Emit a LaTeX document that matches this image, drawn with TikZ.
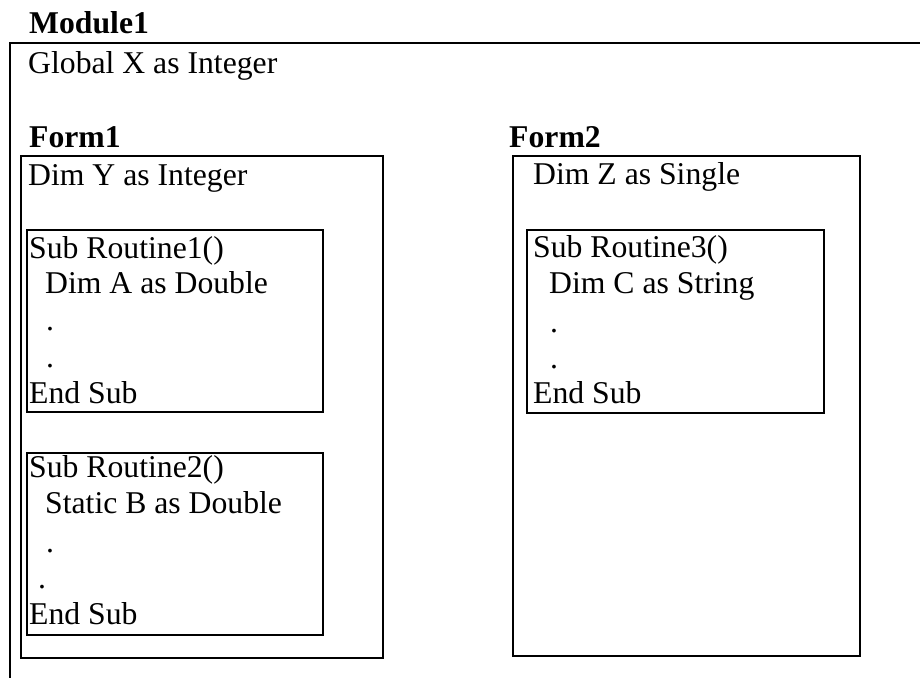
\documentclass[tikz,border=0pt]{standalone}
\usepackage{fontspec}
\setmainfont{Liberation Serif}
\begin{document}
\begin{tikzpicture}[x=1pt,y=-1pt,
  frame/.style={draw=black,line width=2.4pt},
  block/.style={draw=black,line width=2.4pt,rectangle,inner sep=0pt,anchor=north west},
  code/.style={anchor=base west,inner sep=0pt,font=\fontsize{31.7}{36}\selectfont},
  title/.style={code,font=\fontsize{31.7}{36}\selectfont\bfseries}]
\useasboundingbox (0,0) rectangle (920,677);
% module outline (open towards the right and bottom)
\coordinate (mtr) at (930,43);
\coordinate (mtl) at (10,43);
\coordinate (mbl) at (10,690);
\draw[frame] (mtr) -- (mtl) -- (mbl);
\node[title] (module) at (29,34) {Module1};
\node[code] (glob) at (28,74) {Global X as Integer};

% Form1
\node[title] (form1t) at (29,147) {Form1};
\node[block,minimum width=362pt,minimum height=502pt] (form1) at (20,155) {};
\node[code] (dimy) at (28,185) {Dim Y as Integer};

\node[block,minimum width=296pt,minimum height=182pt] (r1) at (26,229) {};
\node[code] (r1a) at (29,258) {Sub Routine1()};
\node[code] (r1b) at (45,293) {Dim A as Double};
\node[code] (r1c) at (46,330) {.};
\node[code] (r1d) at (46,367) {.};
\node[code] (r1e) at (29,403) {End Sub};

\node[block,minimum width=296pt,minimum height=182pt] (r2) at (26,452) {};
\node[code] (r2a) at (29,477) {Sub Routine2()};
\node[code] (r2b) at (45,513) {Static B as Double};
\node[code] (r2c) at (46,552) {.};
\node[code] (r2d) at (38,588) {.};
\node[code] (r2e) at (29,624) {End Sub};

% Form2
\node[title] (form2t) at (509,147) {Form2};
\node[block,minimum width=347pt,minimum height=500pt] (form2) at (512,155) {};
\node[code] (dimz) at (533,184) {Dim Z as Single};

\node[block,minimum width=297pt,minimum height=183pt] (r3) at (526,229) {};
\node[code] (r3a) at (533,257) {Sub Routine3()};
\node[code] (r3b) at (549,293) {Dim C as String};
\node[code] (r3c) at (550,332) {.};
\node[code] (r3d) at (550,368) {.};
\node[code] (r3e) at (533,403) {End Sub};
\end{tikzpicture}
\end{document}
